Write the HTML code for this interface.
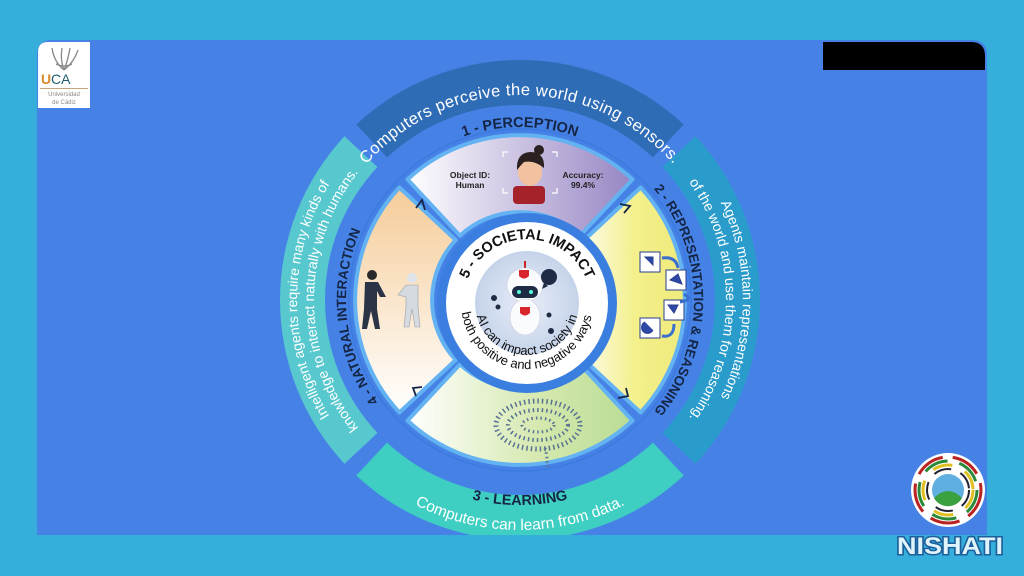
<!DOCTYPE html>
<html><head><meta charset="utf-8"><style>
html,body{margin:0;padding:0;width:1024px;height:576px;overflow:hidden;background:#36aedb}
svg{display:block}
text{font-family:"Liberation Sans",sans-serif}
</style></head><body>
<svg width="1024" height="576" viewBox="0 0 1024 576" xmlns="http://www.w3.org/2000/svg">
<defs>
<clipPath id="pc"><path d="M52,40 H972 Q987,40 987,55 V535 H37 V55 Q37,40 52,40 Z"/></clipPath>
<linearGradient id="gTop" x1="0" y1="0" x2="1" y2="0"><stop offset="0" stop-color="#ffffff"/><stop offset="1" stop-color="#9786c4"/></linearGradient>
<linearGradient id="gRight" x1="0" y1="0" x2="1" y2="0"><stop offset="0" stop-color="#fbfbe6"/><stop offset="0.5" stop-color="#f4f08c"/><stop offset="1" stop-color="#eeea7a"/></linearGradient>
<linearGradient id="gBot" x1="0" y1="0" x2="1" y2="0"><stop offset="0" stop-color="#ffffff"/><stop offset="0.6" stop-color="#d4e8ad"/><stop offset="1" stop-color="#b9dc95"/></linearGradient>
<linearGradient id="gLeft" x1="0" y1="0" x2="0" y2="1"><stop offset="0" stop-color="#f5cc98"/><stop offset="1" stop-color="#ffffff"/></linearGradient>
<radialGradient id="gRob" cx="0.5" cy="0.5" r="0.5"><stop offset="0" stop-color="#e8eef8"/><stop offset="1" stop-color="#c5d3ea"/></radialGradient>
<path id="tTop" d="M-157,-131.8 A205,205 0 0 1 157,-131.8"/>
<path id="tPer" d="M-132.5,-111.2 A173,173 0 0 1 132.5,-111.2"/>
<path id="tR1" d="M143.3,-170.8 A223,223 0 0 1 143.3,170.8"/>
<path id="tR2" d="M132.4,-157.8 A206,206 0 0 1 132.4,157.8"/>
<path id="tRep" d="M111.8,-133.3 A174,174 0 0 1 111.8,133.3"/>
<path id="tL1" d="M-143.3,170.8 A223,223 0 0 1 -143.3,-170.8"/>
<path id="tL2" d="M-132.4,157.8 A206,206 0 0 1 -132.4,-157.8"/>
<path id="tNat" d="M-111.8,133.3 A174,174 0 0 1 -111.8,-133.3"/>
<path id="tLrn" d="M-131.8,157 A205,205 0 0 0 131.8,157"/>
<path id="tCmp" d="M-147.8,176.2 A230,230 0 0 0 147.8,176.2"/>
<path id="tSoc" d="M-63,-11.1 A64,64 0 0 1 63,-11.1"/>
<path id="tAI" d="M-50.2,13.5 A52,52 0 0 0 50.2,13.5"/>
<path id="tBoth" d="M-65,11.5 A66,66 0 0 0 65,11.5"/>
</defs>

<path d="M52,40 H972 Q987,40 987,55 V535 H37 V55 Q37,40 52,40 Z" fill="#4682e6"/>
<path d="M823,42 H971 Q985,42 985,56 V70 H823 Z" fill="#000"/>

<g clip-path="url(#pc)">
<g transform="translate(520,300)">
  <path d="M-163.7,-175.5 A240,240 0 0 1 163.7,-175.5 L133,-142.6 A195,195 0 0 0 -133,-142.6 Z" fill="#2f6cb6"/>
  <path d="M175.5,-163.7 A240,240 0 0 1 175.5,163.7 L142.6,133 A195,195 0 0 0 142.6,-133 Z" fill="#2a9ccb"/>
  <path d="M163.7,175.5 A240,240 0 0 1 -163.7,175.5 L-133,142.6 A195,195 0 0 0 133,142.6 Z" fill="#3fcfc2"/>
  <path d="M-175.5,163.7 A240,240 0 0 1 -175.5,-163.7 L-142.6,-133 A195,195 0 0 0 -142.6,133 Z" fill="#58c8cf"/>

  <text font-size="16.5" fill="#fff" letter-spacing="0.4"><textPath href="#tTop" startOffset="50%" text-anchor="middle">Computers perceive the world using sensors.</textPath></text>
  <text font-size="14" fill="#fff"><textPath href="#tR1" startOffset="50%" text-anchor="middle">Agents maintain representations</textPath></text>
  <text font-size="14" fill="#fff"><textPath href="#tR2" startOffset="50%" text-anchor="middle">of the world and use them for reasoning.</textPath></text>
  <text font-size="14" fill="#fff"><textPath href="#tL1" startOffset="50%" text-anchor="middle">Intelligent agents require many kinds of</textPath></text>
  <text font-size="14" fill="#fff"><textPath href="#tL2" startOffset="50%" text-anchor="middle">knowledge to interact naturally with humans.</textPath></text>
  <text font-size="15.5" fill="#fff"><textPath href="#tCmp" startOffset="50%" text-anchor="middle">Computers can learn from data.</textPath></text>

  <text font-size="14.5" font-weight="bold" fill="#152545"><textPath href="#tPer" startOffset="50%" text-anchor="middle">1 - PERCEPTION</textPath></text>
  <text font-size="13.5" font-weight="bold" fill="#152545"><textPath href="#tRep" startOffset="50%" text-anchor="middle">2 - REPRESENTATION &amp; REASONING</textPath></text>
  <text font-size="14.5" font-weight="bold" fill="#152545"><textPath href="#tLrn" startOffset="50%" text-anchor="middle">3 - LEARNING</textPath></text>
  <text font-size="13.5" font-weight="bold" fill="#152545"><textPath href="#tNat" startOffset="44%" text-anchor="middle">4 - NATURAL INTERACTION</textPath></text>

  <circle r="171" fill="none" stroke="#3d7be0" stroke-width="2"/>
  <g stroke="#63b2f2" stroke-width="4" stroke-linejoin="round">
    <path d="M-112.5,-120.6 A165,165 0 0 1 112.5,-120.6 L60,-64.3 A88,88 0 0 0 -60,-64.3 Z" fill="url(#gTop)"/>
    <path d="M120.6,-112.5 A165,165 0 0 1 120.6,112.5 L64.3,60 A88,88 0 0 0 64.3,-60 Z" fill="url(#gRight)"/>
    <path d="M112.5,120.6 A165,165 0 0 1 -112.5,120.6 L-60,64.3 A88,88 0 0 0 60,64.3 Z" fill="url(#gBot)"/>
    <path d="M-120.6,112.5 A165,165 0 0 1 -120.6,-112.5 L-64.3,-60 A88,88 0 0 0 -64.3,60 Z" fill="url(#gLeft)"/>
  </g>
  <g fill="none" stroke="#152545" stroke-width="1.8">
    <path d="M-104,-92 l6,-8 l3,10" />
    <path d="M100,-96 l10,2 l-6,7"/>
    <path d="M-104,96 l-3,-8 l9,-1"/>
    <path d="M98,98 l10,-2 l-2,-8"/>
  </g>
</g>

<text x="470" y="178" font-family="Liberation Mono,monospace" font-size="8.5" font-weight="bold" fill="#222" text-anchor="middle">Object ID:</text>
<text x="470" y="188" font-family="Liberation Mono,monospace" font-size="8.5" font-weight="bold" fill="#222" text-anchor="middle">Human</text>
<text x="583" y="178" font-family="Liberation Mono,monospace" font-size="8.5" font-weight="bold" fill="#222" text-anchor="middle">Accuracy:</text>
<text x="583" y="188" font-family="Liberation Mono,monospace" font-size="8.5" font-weight="bold" fill="#222" text-anchor="middle">99.4%</text>
<g>
  <path d="M508,152 h-5 v5 M552,152 h5 v5 M508,193 h-5 v-5 M552,193 h5 v-5" stroke="#fff" stroke-width="1.2" fill="none"/>
  <rect x="513" y="186" width="32" height="18" rx="4" fill="#a5222b"/>
  <ellipse cx="530" cy="172" rx="12" ry="14" fill="#f2c2a0"/>
  <path d="M517,170 Q516,153 530,152 Q545,152 544,168 Q535,160 524,162 Q520,166 517,170Z" fill="#2b2020"/>
  <circle cx="539" cy="150" r="5" fill="#2b2020"/>
</g>

<g stroke="#2a3f8f" stroke-width="1">
  <rect x="640" y="252" width="20" height="20" fill="#fff"/><path d="M645,257 l8,0 l0,8z" fill="#2d49a8"/>
  <rect x="666" y="270" width="20" height="20" fill="#fff"/><path d="M670,280 l8,-6 l4,10z" fill="#2d49a8"/>
  <rect x="664" y="300" width="20" height="20" fill="#fff"/><path d="M668,305 l10,0 l-4,8z" fill="#2d49a8"/>
  <rect x="640" y="318" width="20" height="20" fill="#fff"/><path d="M645,322 a6,6 0 1 0 8,8" fill="#2d49a8"/>
</g>
<path d="M662,258 q14,-2 16,10 M684,294 q10,6 -4,8 M662,336 q12,2 12,-12" stroke="#3a6fd0" stroke-width="3" fill="none"/>

<g>
  <ellipse cx="538" cy="425" rx="42" ry="24" fill="none" stroke="#5a7392" stroke-width="5" stroke-dasharray="1.5 3"/>
  <ellipse cx="538" cy="425" rx="30" ry="15" fill="none" stroke="#5a7392" stroke-width="4" stroke-dasharray="1.5 3"/>
  <ellipse cx="538" cy="425" rx="16" ry="7" fill="none" stroke="#5a7392" stroke-width="3" stroke-dasharray="1.5 3"/>
  <path d="M545,448 q3,10 2,22" stroke="#5a7392" stroke-width="3" stroke-dasharray="1.5 3" fill="none"/>
</g>

<g>
  <circle cx="372" cy="275" r="5" fill="#2a2a2a"/>
  <path d="M365,282 h13 l8,15 h-6 l-3,-6 v18 l3,20 h-5 l-4,-18 l-4,18 h-5 l2,-20 z" fill="#2b3447"/>
  <circle cx="412" cy="278" r="5" fill="#e0e4ea"/>
  <path d="M406,285 h12 v22 l2,20 h-5 l-3,-18 l-3,18 h-5 l2,-20 v-10 l-8,-2 z" fill="#d5d9e0" stroke="#9aa0aa" stroke-width="0.6"/>
</g>

<g transform="translate(527,303)">
  <circle r="90" fill="#3a7ee0"/>
  <circle r="81" fill="#fff"/>
  <circle r="52" fill="url(#gRob)"/>
  <rect x="-3" y="-42" width="2" height="8" fill="#c22"/>
  <ellipse cx="-2" cy="-18" rx="18" ry="17" fill="#fafbfd" stroke="#ccd" stroke-width="0.6"/>
  <rect x="-15" y="-17" width="26" height="12" rx="6" fill="#1f2a44"/>
  <circle cx="-8" cy="-11" r="2" fill="#5fd"/><circle cx="4" cy="-11" r="2" fill="#5fd"/>
  <path d="M-8,-33 h10 v6 q-5,5 -10,0z" fill="#d9262e"/>
  <ellipse cx="-2" cy="14" rx="15" ry="18" fill="#fafbfd" stroke="#ccd" stroke-width="0.6"/>
  <path d="M-7,4 h10 v6 q-5,5 -10,0z" fill="#d9262e"/>
  <circle cx="-33" cy="-5" r="3" fill="#1f2a44"/><circle cx="-29" cy="4" r="2.5" fill="#1f2a44"/>
  <circle cx="22" cy="12" r="2.5" fill="#1f2a44"/><circle cx="24" cy="28" r="3" fill="#1f2a44"/>
  <circle cx="22" cy="-26" r="8" fill="#1f2a44"/><path d="M17,-20 l-2,6 l6,-3z" fill="#1f2a44"/>
  <text font-size="14.5" font-weight="bold" fill="#111"><textPath href="#tSoc" startOffset="50%" text-anchor="middle">5 - SOCIETAL IMPACT</textPath></text>
  <text font-size="13" fill="#111"><textPath href="#tAI" startOffset="50%" text-anchor="middle">AI can impact society in</textPath></text>
  <text font-size="13" fill="#111"><textPath href="#tBoth" startOffset="50%" text-anchor="middle">both positive and negative ways.</textPath></text>
</g>
</g>

<path d="M48,42 H90 V108 H38 V52 Q38,42 48,42 Z" fill="#fff"/>
<g stroke="#888" stroke-width="1.3" fill="none">
  <path d="M64,70 q-10,-8 -12,-22 M64,70 q-4,-10 -2,-22 M64,70 q4,-10 6,-22 M64,70 q10,-8 14,-20 M56,64 q8,4 16,0"/>
</g>
<text x="41" y="84" font-size="14" font-weight="bold" fill="#d98a2b">U</text>
<text x="51" y="84" font-size="14" fill="#1f5f6f">CA</text>
<rect x="40" y="88" width="48" height="1" fill="#c9a67a"/>
<text x="64" y="96" font-size="6" fill="#888" text-anchor="middle">Universidad</text>
<text x="64" y="104" font-size="6" fill="#888" text-anchor="middle">de Cádiz</text>

<g transform="translate(948,490)">
  <circle r="37" fill="#fff"/>
  <circle r="33" fill="none" stroke="#b22" stroke-width="3" stroke-dasharray="30 10"/>
  <circle r="29" fill="none" stroke="#2a8a3a" stroke-width="3" stroke-dasharray="25 12"/>
  <circle r="25" fill="none" stroke="#e0c020" stroke-width="3" stroke-dasharray="20 14"/>
  <circle r="21" fill="none" stroke="#223" stroke-width="2" stroke-dasharray="18 10"/>
  <circle r="16" fill="#5fb0e0"/>
  <path d="M-14,8 q14,-14 28,0 a16,16 0 0 1 -28,0z" fill="#3aa040"/>
</g>
<text x="950" y="554" font-size="24" font-weight="bold" fill="#dff3fb" stroke="#1d5f9a" stroke-width="3" text-anchor="middle" paint-order="stroke" textLength="106" lengthAdjust="spacingAndGlyphs">NISHATI</text>
</svg>
</body></html>
